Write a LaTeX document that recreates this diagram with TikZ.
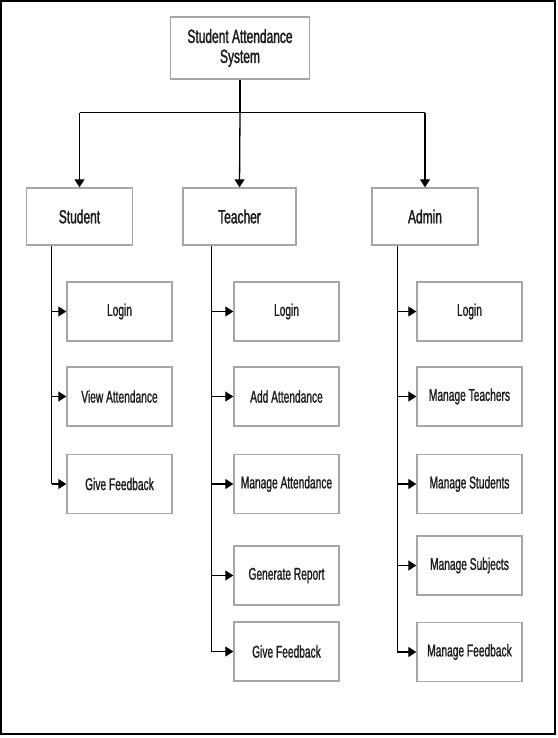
\documentclass[tikz,border=0pt]{standalone}
\usepackage{fontspec}
\setmainfont{Liberation Sans}
\newfontfamily\headfont[FakeStretch=0.63,FakeBold=1.6]{Liberation Sans}
\newfontfamily\itemfont[FakeStretch=0.6,FakeBold=1.1]{Liberation Sans}
\usetikzlibrary{arrows.meta,positioning}
\definecolor{boxline}{HTML}{A6A6A6}
\definecolor{txt}{HTML}{1C1C1C}
\tikzset{
  head/.style={rectangle,draw=boxline,line width=1.4pt,fill=white,text=txt,
    minimum width=106pt,minimum height=57pt,align=center,
    font=\headfont\fontsize{19}{20}\selectfont},
  item/.style={rectangle,draw=boxline,line width=1.4pt,fill=white,text=txt,
    minimum width=105pt,minimum height=59pt,align=center,
    font=\itemfont\fontsize{17}{18}\selectfont},
  link/.style={line width=1.3pt},
  arr/.style={link,-{Triangle[length=8pt,width=10pt]}}
}

\begin{document}
\begin{tikzpicture}[x=1pt,y=-1pt]
  \useasboundingbox (0,0) rectangle (557,738);
  \draw[line width=2pt] (1,1) rectangle (555,734);

  \node (root) [head,minimum width=139pt,minimum height=62pt] at (240,48) {Student Attendance\\System};
  \node (student) [head] at (79.5,216.5) {Student};
  \node (teacher) [head,minimum width=113pt] at (239.5,216.5) {Teacher};
  \node (admin)   [head] at (425,216.5) {Admin};

  % student column
  \node (slogin)  [item] at (119.5,311.5) {Login};
  \node (sview)   [item] at (119.5,396.5) {View Attendance};
  \node (sfeed)   [item] at (119.5,484)   {Give Feedback};

  % teacher column
  \node (tlogin)  [item] at (286.5,311.5) {Login};
  \node (tadd)    [item] at (286.5,396.5) {Add Attendance};
  \node (tmanage) [item] at (286.5,484)   {Manage Attendance};
  \node (treport) [item] at (286.5,575.5) {Generate Report};
  \node (tfeed)   [item] at (286.5,651.5) {Give Feedback};

  % admin column
  \node (alogin)    [item] at (469.5,311.5) {Login};
  \node (ateachers) [item] at (469.5,396.5) {Manage Teachers};
  \node (astudents) [item] at (469.5,484)   {Manage Students};
  \node (asubjects) [item] at (469.5,565.5) {Manage Subjects};
  \node (afeed)     [item] at (469.5,652)   {Manage Feedback};

  \coordinate (bus) at ([yshift=-33pt]root.south);
  \coordinate (sspine) at ([xshift=26pt]student.south west);
  \coordinate (tspine) at ([xshift=29pt]teacher.south west);
  \coordinate (aspine) at ([xshift=26pt]admin.south west);

  \draw[link] (root.south) -- (bus);
  \draw[link] (bus -| student) -- (bus -| admin);
  \draw[arr] (bus -| student) -- (student.north);
  \draw[arr] (bus) -- (teacher.north);
  \draw[arr] (bus -| admin) -- (admin.north);

  \draw[link] (sspine) -- (sspine |- sfeed.west);
  \draw[link] (tspine) -- (tspine |- tfeed.west);
  \draw[link] (aspine) -- (aspine |- afeed.west);

  \foreach \n in {slogin,sview,sfeed}
    \draw[arr] (sspine |- \n.west) -- (\n.west);
  \foreach \n in {tlogin,tadd,tmanage,treport,tfeed}
    \draw[arr] (tspine |- \n.west) -- (\n.west);
  \foreach \n in {alogin,ateachers,astudents,asubjects,afeed}
    \draw[arr] (aspine |- \n.west) -- (\n.west);
\end{tikzpicture}
\end{document}
